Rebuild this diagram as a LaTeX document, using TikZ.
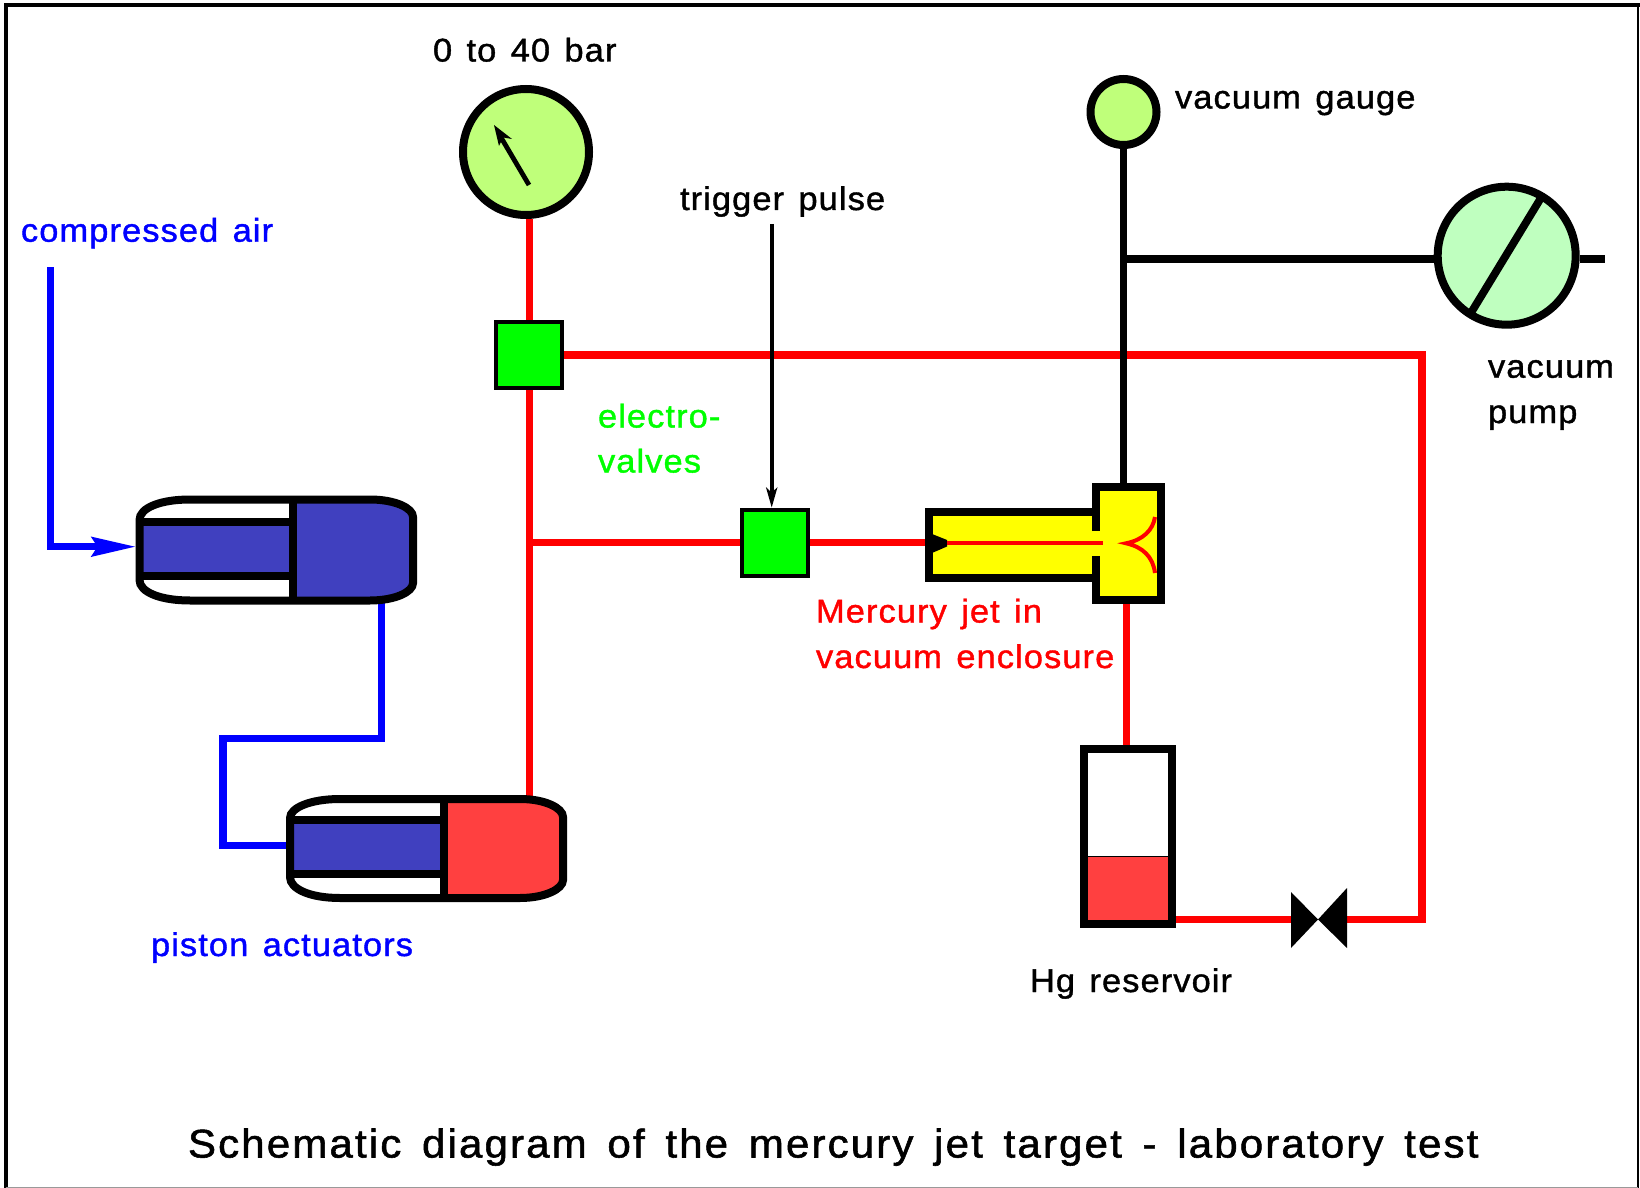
\documentclass[tikz,border=0pt]{standalone}
\usepackage{fontspec}
\newfontfamily\labfont[LetterSpace=3.3,WordSpace=1.35,FakeStretch=1.05,FakeBold=1.2]{Liberation Sans}
\newfontfamily\titfont[LetterSpace=5.4,WordSpace=1.5,FakeStretch=1.05,FakeBold=1.4]{Liberation Sans}
\usetikzlibrary{arrows.meta}
\definecolor{pipered}{RGB}{255,0,0}
\definecolor{hgred}{RGB}{255,64,64}
\definecolor{dkblue}{RGB}{64,64,191}
\definecolor{gaugegreen}{RGB}{191,255,122}
\definecolor{pumpgreen}{RGB}{191,255,191}
\definecolor{valvegreen}{RGB}{0,255,0}
\definecolor{airblue}{RGB}{0,0,255}
\definecolor{jetyellow}{RGB}{255,255,0}
\tikzset{
  lab/.style={anchor=base west,inner sep=0pt,outer sep=0pt,font=\labfont\fontsize{16.4}{16.4}\selectfont},
  titlelab/.style={anchor=base west,inner sep=0pt,outer sep=0pt,font=\titfont\fontsize{20}{20}\selectfont},
  redpipe/.style={draw=pipered,line width=3.75pt},
  blackpipe/.style={draw=black,line width=3.9pt},
  bluepipe/.style={draw=airblue,line width=3.6pt},
  evalve/.style={draw=black,fill=valvegreen,line width=2pt,minimum size=33pt,inner sep=0pt,shape=rectangle},
  dial/.style={draw=black,line width=4pt,shape=circle,inner sep=0pt},
  heavy/.style={draw=black,line width=4pt},
  thintip/.style={-{Stealth[length=10pt,width=5.5pt,inset=2.5pt]}},
}
\begin{document}
\begin{tikzpicture}[x=0.5pt,y=-0.5pt,line join=miter]
\useasboundingbox (0,0) rectangle (1640,1188);
\fill[white] (0,0) rectangle (1640,1188);
% frame
\draw[black,line width=2pt] (5.5,1188) -- (5.5,5.5) -- (1640,5.5);
\draw[black,line width=1pt] (1638,5.5) -- (1638,1188);
\draw[black!40,line width=.8pt] (5.5,1187.4) -- (1638,1187.4);

% anchor points
\coordinate (airin) at (50.7,267);
\coordinate (aircorner) at (50.7,546.7);
\coordinate (p1out) at (381.7,600);
\coordinate (b1) at (381.7,738.5);
\coordinate (b2) at (223,738.5);
\coordinate (b3) at (223,845.7);
\coordinate (p2in) at (290,845.7);
\coordinate (p2top) at (529.3,802);
\coordinate (tee) at (529.3,542.7);
\coordinate (rtop) at (1422,355);
\coordinate (rbot) at (1422,919.5);
\coordinate (vacT) at (1123.5,258.7);
\coordinate (nozzle) at (928,542.7);
\coordinate (chamberbot) at (1126.7,600);
\coordinate (chambertop) at (1123.5,490);
\coordinate (restop) at (1126.7,750);
\coordinate (resright) at (1172,919.5);
\coordinate (bowL) at (1295,919.5);
\coordinate (bowR) at (1345,919.5);
\coordinate (pumpend) at (1605,258.7);
\coordinate (trigstart) at (771.7,224);

% nodes
\node[dial,fill=gaugegreen,minimum size=63pt] (press) at (526,152) {};
\node[dial,fill=gaugegreen,minimum size=33pt] (vacg) at (1123.5,112) {};
\node[dial,fill=pumpgreen,minimum size=69pt] (pump) at (1506.7,255.7) {};
\node[evalve] (v1) at (529.3,355) {};
\node[evalve] (v2) at (775,542.7) {};

% pipes
\draw[redpipe] (press.south -| v1.north) -- (v1.north);
\draw[redpipe] (v1.south) -- (p2top);
\draw[redpipe] (tee) -- (v2.west);
\draw[redpipe] (v2.east) -- (nozzle);
\draw[redpipe] (v1.east) -- (rtop) -- (rbot) -- (bowR);
\draw[redpipe] (resright) -- (bowL);
\draw[redpipe] (chamberbot) -- (restop);
\draw[blackpipe] (vacg.south) -- (chambertop);
\draw[blackpipe] (vacT) -- (pump.west |- vacT);
\draw[blackpipe] (pump.east |- pumpend) -- (pumpend);
\draw[bluepipe] (p1out) -- (b1) -- (b2) -- (b3) -- (p2in);
\draw[bluepipe] (airin) -- (aircorner) -- (100,546.7);
\fill[airblue] (135,546.7) -- (90.7,536.5) -- (97.5,546.7) -- (90.7,557) -- cycle;

% dial contents
\draw[black,line width=2.4pt] (529,185) -- (499,134);
\fill[black] (494,125) -- (512,139) -- (503,137.5) -- (499,146) -- cycle;
\draw[black,line width=3.9pt] (1541.7,196.7) -- (1471.7,311.7);

% trigger arrow
\draw[black,line width=2pt,thintip] (trigstart) -- (v2.north -| trigstart);

% piston 1
\fill[white] (139.5,520) .. controls (139.5,508) and (160,499.5) .. (190,499.5) -- (293,499.5) -- (293,600.5) -- (190,600.5) .. controls (160,600.5) and (139.5,592) .. (139.5,580) -- cycle;
\fill[dkblue] (139.5,522) rectangle (293,575.7);
\fill[dkblue] (293,499.5) -- (370,499.5) .. controls (395,499.5) and (413,508) .. (413,517) -- (413,583) .. controls (413,592) and (395,600.5) .. (370,600.5) -- (293,600.5) -- cycle;
\draw[heavy] (190,499.5) -- (370,499.5) .. controls (395,499.5) and (413,508) .. (413,517) -- (413,583) .. controls (413,592) and (395,600.5) .. (370,600.5) -- (190,600.5) .. controls (160,600.5) and (139.5,592) .. (139.5,580) -- (139.5,520) .. controls (139.5,508) and (160,499.5) .. (190,499.5) -- cycle;
\draw[heavy] (293,499.5) -- (293,600.5);
\draw[heavy] (139.5,522) -- (293,522);
\draw[heavy] (139.5,575.7) -- (293,575.7);

% piston 2
\fill[dkblue] (290,820) rectangle (444,874);
\fill[hgred] (444,799) -- (520,799) .. controls (545,799) and (563,808) .. (563,817) -- (563,880) .. controls (563,889) and (545,898) .. (520,898) -- (444,898) -- cycle;
\draw[heavy] (340,799) -- (520,799) .. controls (545,799) and (563,808) .. (563,817) -- (563,880) .. controls (563,889) and (545,898) .. (520,898) -- (340,898) .. controls (310,898) and (290,889) .. (290,877) -- (290,818) .. controls (290,808) and (310,799) .. (340,799) -- cycle;
\draw[heavy] (444,799) -- (444,898);
\draw[heavy] (290,820) -- (444,820);
\draw[heavy] (290,874) -- (444,874);

% enclosure
\fill[jetyellow] (925,508) rectangle (1165,581);
\fill[jetyellow] (1092,483) rectangle (1165,604);
\draw[heavy] (1092,512) -- (928.7,512) -- (928.7,577.5) -- (1092,577.5);
\draw[heavy] (1096,531) -- (1096,486.7) -- (1161.3,486.7) -- (1161.3,600.3) -- (1096,600.3) -- (1096,556);
\fill[black] (925,532) -- (932,534) -- (947,540) -- (947,546.5) -- (932,553) -- (925,555) -- cycle;
\draw[pipered,line width=2pt] (947,543.3) -- (1103,543.3);
\draw[pipered,line width=2pt] (1155,517) .. controls (1153,530) and (1143,540) .. (1126,543.3) .. controls (1143,547) and (1153,557) .. (1155,573);

% reservoir
\fill[hgred] (1083.7,856) rectangle (1172.3,924);
\draw[black,line width=.5pt] (1083.7,856) -- (1172.3,856);
\draw[heavy] (1083.7,748.7) rectangle (1172.3,924.3);

% manual valve
\fill[black] (1291,892) -- (1318,919.5) -- (1347,888) -- (1347,948) -- (1318,919.5) -- (1291,948) -- cycle;

% labels
\node[lab] (t1) at (433,61.5) {0 to 40 bar};
\node[lab] (t2) at (1175,108.5) {vacuum gauge};
\node[lab] (t3) at (680,210) {trigger pulse};
\node[lab,text=airblue] (t4) at (21,241.7) {compressed air};
\node[lab] (t5) at (1488,377.7) {vacuum};
\node[lab] (t6) at (1488,423) {pump};
\node[lab,text=valvegreen] (t7) at (598,427.5) {electro-};
\node[lab,text=valvegreen] (t8) at (598,472.5) {valves};
\node[lab,text=pipered] (t9) at (816,622.5) {Mercury jet in};
\node[lab,text=pipered] (t10) at (816,668) {vacuum enclosure};
\node[lab] (t11) at (1030,992) {Hg reservoir};
\node[lab,text=airblue] (t12) at (151,956) {piston actuators};
\node[titlelab] (t13) at (188,1157.5) {Schematic diagram of the mercury jet target - laboratory test};
\end{tikzpicture}
\end{document}
